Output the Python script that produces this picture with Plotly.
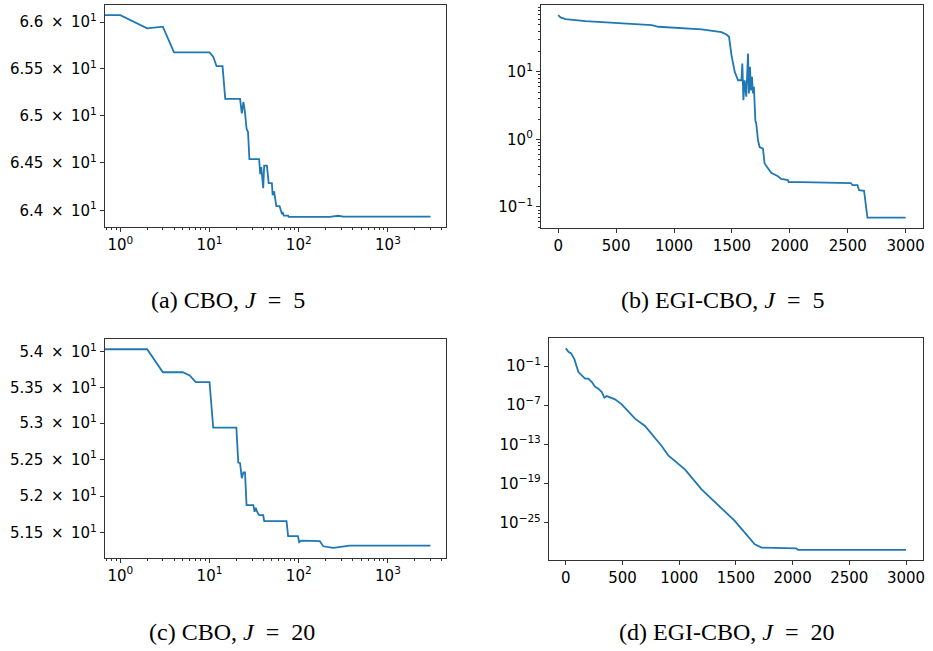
import numpy as np
import plotly.graph_objects as go

# ---------------- data ----------------
# (a) CBO, J = 5  (log x, log y)
a_iter = [0, 1, 2, 3, 4, 10, 11, 12, 14, 15, 22, 23, 24, 25, 26, 27, 28, 36, 37, 38, 40, 41, 44, 46, 50, 51, 53, 54, 56, 61, 63, 65, 66, 68, 76, 77, 223, 277, 315, 3000]
a_vals = [66.075, 66.075, 65.932, 65.95, 65.673, 65.673, 65.627, 65.526, 65.526, 65.178, 65.178, 65.024, 65.145, 65.03, 64.862, 64.825, 64.54, 64.54, 64.38, 64.455, 64.233, 64.47, 64.47, 64.287, 64.287, 64.16, 64.2, 64.125, 64.045, 64.045, 64.0, 63.96, 63.985, 63.946, 63.946, 63.933, 63.933, 63.945, 63.935, 63.935]

# (b) EGI-CBO, J = 5  (linear x, log y)
b_iter = [0, 20, 63, 235, 808, 865, 1238, 1410, 1452, 1475, 1496, 1524, 1553, 1582, 1590, 1599, 1610, 1624, 1639, 1647, 1656, 1665, 1673, 1682, 1690, 1696, 1702, 1710, 1725, 1739, 1768, 1782, 1811, 1839, 1897, 1925, 1983, 1990, 2097, 2527, 2541, 2584, 2598, 2641, 2670, 3000]
b_vals = [69, 63.8, 60.3, 56.2, 49, 46.4, 42.4, 38.7, 35.7, 33, 17.7, 10, 7.5, 7.5, 13.3, 3.8, 7.5, 4.3, 18.6, 4.8, 11.9, 5.3, 8.4, 4.8, 6, 3.4, 1.92, 1.72, 0.97, 0.77, 0.73, 0.44, 0.37, 0.32, 0.285, 0.26, 0.25, 0.234, 0.234, 0.226, 0.21, 0.21, 0.177, 0.173, 0.0697, 0.0697]

# (c) CBO, J = 20  (log x, log y)
c_iter = [0, 2, 3, 5, 6, 7, 10, 11, 20, 21, 22, 23, 24, 25, 26, 31, 32, 33, 34, 36, 40, 41, 73, 74, 76, 98, 101, 107, 172, 188, 244, 372, 3000]
c_vals = [54.037, 54.037, 53.712, 53.712, 53.667, 53.575, 53.575, 52.94, 52.94, 52.457, 52.45, 52.242, 52.324, 52.324, 51.877, 51.877, 51.785, 51.84, 51.79, 51.74, 51.74, 51.658, 51.658, 51.58, 51.457, 51.457, 51.374, 51.397, 51.39, 51.32, 51.30, 51.33, 51.33]

# (d) EGI-CBO, J = 20  (linear x, log y) -- values given as log10
d_iter = [0, 23, 47, 76, 111, 141, 170, 199, 229, 258, 287, 317, 340, 361, 434, 493, 610, 698, 786, 845, 903, 1050, 1197, 1343, 1402, 1490, 1578, 1666, 1725, 1900, 2032, 2047, 3000]
d_log10 = [1.707, 1.196, 0.94, 0.02, -1.92, -2.43, -2.94, -2.94, -3.45, -4.17, -4.47, -4.98, -5.85, -5.6, -6.11, -6.87, -9.07, -10.19, -11.98, -13.26, -14.69, -16.83, -19.9, -22.35, -23.2, -24.75, -26.54, -28.32, -28.83, -28.94, -28.94, -29.19, -29.19]
d_vals = [10.0 ** v for v in d_log10]

EQ = "\u2002=\u2002"
captions = ["(a) CBO, <i>J</i>" + EQ + "5",
            "(b) EGI-CBO, <i>J</i>" + EQ + "5",
            "(c) CBO, <i>J</i>" + EQ + "20",
            "(d) EGI-CBO, <i>J</i>" + EQ + "20"]

# tick labels
TX = "\u2002×\u2002"
a_yticks = [64.0, 64.5, 65.0, 65.5, 66.0]
a_ytext = ["6.4" + TX + "10<sup>1</sup>", "6.45" + TX + "10<sup>1</sup>", "6.5" + TX + "10<sup>1</sup>",
           "6.55" + TX + "10<sup>1</sup>", "6.6" + TX + "10<sup>1</sup>"]
c_yticks = [51.5, 52.0, 52.5, 53.0, 53.5, 54.0]
c_ytext = ["5.15" + TX + "10<sup>1</sup>", "5.2" + TX + "10<sup>1</sup>", "5.25" + TX + "10<sup>1</sup>",
           "5.3" + TX + "10<sup>1</sup>", "5.35" + TX + "10<sup>1</sup>", "5.4" + TX + "10<sup>1</sup>"]
logx_ticks = [1, 10, 100, 1000]
logx_text = ["10<sup>0</sup>", "10<sup>1</sup>", "10<sup>2</sup>", "10<sup>3</sup>"]
lin_xticks = [0, 500, 1000, 1500, 2000, 2500, 3000]
b_yticks = [0.1, 1, 10]
b_ytext = ["10<sup>−1</sup>", "10<sup>0</sup>", "10<sup>1</sup>"]
d_yticks = [1e-1, 1e-7, 1e-13, 1e-19, 1e-25]
d_ytext = ["10<sup>−1</sup>", "10<sup>−7</sup>", "10<sup>−13</sup>", "10<sup>−19</sup>", "10<sup>−25</sup>"]

# ---------------- figure ----------------
W, H = 933, 651
C0 = "#1f77b4"
FONT = dict(family="DejaVu Sans", size=15, color="black")


def dom_x(l, r):
    return [l / W, r / W]


def dom_y(t, b):
    return [1 - b / H, 1 - t / H]


def log_range(vals, pad=0.05):
    lo, hi = np.log10(min(vals)), np.log10(max(vals))
    p = (hi - lo) * pad
    return [lo - p, hi + p]


def minor_log(lo_exp, hi_exp):
    return [m * 10.0 ** k for k in range(lo_exp, hi_exp + 1) for m in range(2, 10)]


fig = go.Figure()

# iteration 0 cannot be shown on a log axis -> pushed far left (clipped by the plot area)
a_x = [i if i > 0 else 1e-3 for i in a_iter]
c_x = [i if i > 0 else 1e-3 for i in c_iter]

LINE = dict(color=C0, width=1.8)
fig.add_trace(go.Scatter(x=a_x, y=a_vals, mode="lines", line=LINE, xaxis="x", yaxis="y"))
fig.add_trace(go.Scatter(x=b_iter, y=b_vals, mode="lines", line=LINE, xaxis="x2", yaxis="y2"))
fig.add_trace(go.Scatter(x=c_x, y=c_vals, mode="lines", line=LINE, xaxis="x3", yaxis="y3"))
fig.add_trace(go.Scatter(x=d_iter, y=d_vals, mode="lines", line=LINE, xaxis="x4", yaxis="y4"))

axis_common = dict(showline=True, linecolor="#333333", linewidth=1, mirror=True,
                   ticks="outside", ticklen=4, tickwidth=1, tickcolor="#333333",
                   showgrid=False, zeroline=False, tickfont=FONT)
MINOR = dict(ticks="outside", ticklen=2, tickcolor="#333333", tickwidth=1)

logx_range = [np.log10(1) - 0.05 * np.log10(3000), np.log10(3000) * 1.05]
lin_range = [-150, 3150]

fig.update_layout(
    width=W, height=H, margin=dict(l=0, r=0, t=0, b=0),
    paper_bgcolor="white", plot_bgcolor="white", showlegend=False,
    xaxis=dict(axis_common, domain=dom_x(105, 447), anchor="y", type="log", range=logx_range,
               tickmode="array", tickvals=logx_ticks, ticktext=logx_text,
               minor=dict(MINOR, tickmode="array", tickvals=minor_log(-1, 3))),
    yaxis=dict(axis_common, domain=dom_y(5, 227), anchor="x", type="log", range=log_range(a_vals),
               tickmode="array", tickvals=a_yticks, ticktext=a_ytext),
    xaxis2=dict(axis_common, domain=dom_x(542, 925), anchor="y2", range=lin_range,
                tickmode="array", tickvals=lin_xticks),
    yaxis2=dict(axis_common, domain=dom_y(5, 227.7), anchor="x2", type="log", range=log_range(b_vals),
                tickmode="array", tickvals=b_yticks, ticktext=b_ytext,
                minor=dict(MINOR, tickmode="array", tickvals=minor_log(-2, 1))),
    xaxis3=dict(axis_common, domain=dom_x(105, 447), anchor="y3", type="log", range=logx_range,
                tickmode="array", tickvals=logx_ticks, ticktext=logx_text,
                minor=dict(MINOR, tickmode="array", tickvals=minor_log(-1, 3))),
    yaxis3=dict(axis_common, domain=dom_y(339.3, 557.7), anchor="x3", type="log", range=log_range(c_vals),
                tickmode="array", tickvals=c_yticks, ticktext=c_ytext),
    xaxis4=dict(axis_common, domain=dom_x(550, 925), anchor="y4", range=lin_range,
                tickmode="array", tickvals=lin_xticks),
    yaxis4=dict(axis_common, domain=dom_y(338.3, 560), anchor="x4", type="log", range=log_range(d_vals),
                tickmode="array", tickvals=d_yticks, ticktext=d_ytext),
)

cap_pos = [(228, 300), (725, 300), (232, 632), (729, 632)]
for text, (cx, cy) in zip(captions, cap_pos):
    fig.add_annotation(text=text, x=cx / W, y=1 - cy / H, xref="paper", yref="paper",
                       showarrow=False, xanchor="center", yanchor="middle",
                       font=dict(family="Liberation Serif", size=24, color="black"))

fig.write_html("out.html")
